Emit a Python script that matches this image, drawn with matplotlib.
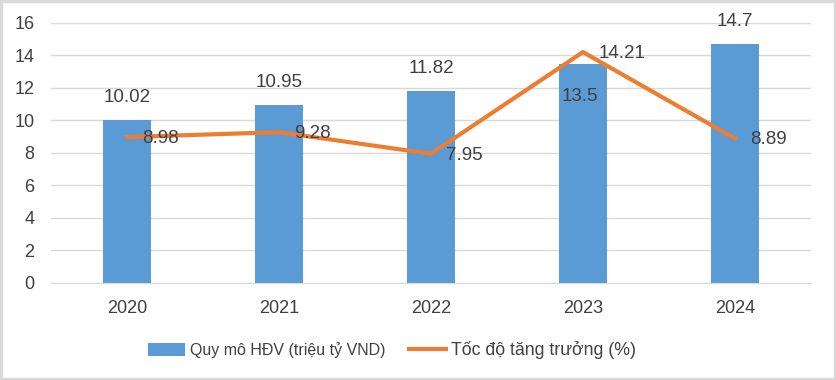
import numpy as np
import matplotlib.pyplot as plt
from matplotlib.patches import Rectangle

plt.rcParams['font.family'] = ['Liberation Sans', 'DejaVu Sans']

years = ['2020', '2021', '2022', '2023', '2024']
scale = [10.02, 10.95, 11.82, 13.5, 14.7]
growth = [8.98, 9.28, 7.95, 14.21, 8.89]

blue = '#5B9BD5'
orange = '#ED7D31'
txt = '#404040'

fig = plt.figure(figsize=(8.36, 3.8), dpi=100)
ax = fig.add_axes([0.061, 0.2553, 0.909, 0.6842])

x = np.arange(len(years))
bars = ax.bar(x, scale, width=0.315, color=blue, zorder=2, label='Quy mô HĐV (triệu tỷ VND)')
line, = ax.plot(x, growth, color=orange, lw=3, zorder=3, solid_joinstyle='miter',
                label='Tốc độ tăng trưởng (%)')

ax.set_xlim(-0.5, len(years) - 0.5)
ax.set_ylim(0, 16)
ax.set_yticks(range(0, 17, 2))
ax.set_xticks(x)
ax.set_xticklabels(years)
ax.grid(axis='y', color='#D9D9D9', lw=1, zorder=0)
for s in ['top', 'right', 'left']:
    ax.spines[s].set_visible(False)
ax.spines['bottom'].set_color('#D9D9D9')
ax.tick_params(length=0, labelsize=13, labelcolor=txt)
ax.tick_params(axis='y', pad=12)
ax.tick_params(axis='x', pad=12)

# bar labels (13.5 sits inside its bar to avoid the line label)
for i, v in enumerate(scale):
    if i == 3:
        ax.annotate(f'{v:g}', (x[i], v), xytext=(-2, -24), textcoords='offset points',
                    ha='center', va='center', fontsize=13.5, color=txt, zorder=4)
    else:
        ax.annotate(f'{v:g}', (x[i], v), xytext=(0, 16), textcoords='offset points',
                    ha='center', va='center', fontsize=13.5, color=txt, zorder=4)

# line labels, to the right of each point
for i, v in enumerate(growth):
    ax.annotate(f'{v:g}', (x[i], v), xytext=(11, -1), textcoords='offset points',
                ha='left', va='center', fontsize=13.5, color=txt, zorder=4)

leg = fig.legend(handles=[bars, line], loc='center', bbox_to_anchor=(0.469, 0.079),
                 ncol=2, frameon=False, fontsize=11.5, handlelength=2.3,
                 handleheight=0.8, columnspacing=1.5, handletextpad=0.3)
leg.get_texts()[1].set_fontsize(12.8)
for t in leg.get_texts():
    t.set_color(txt)

fig.patches.append(Rectangle((0.0015, 0.003), 0.997, 0.994, transform=fig.transFigure,
                             fill=False, edgecolor='#D9D9D9', lw=2.5))

fig.savefig('out.png', dpi=100, facecolor='white')
